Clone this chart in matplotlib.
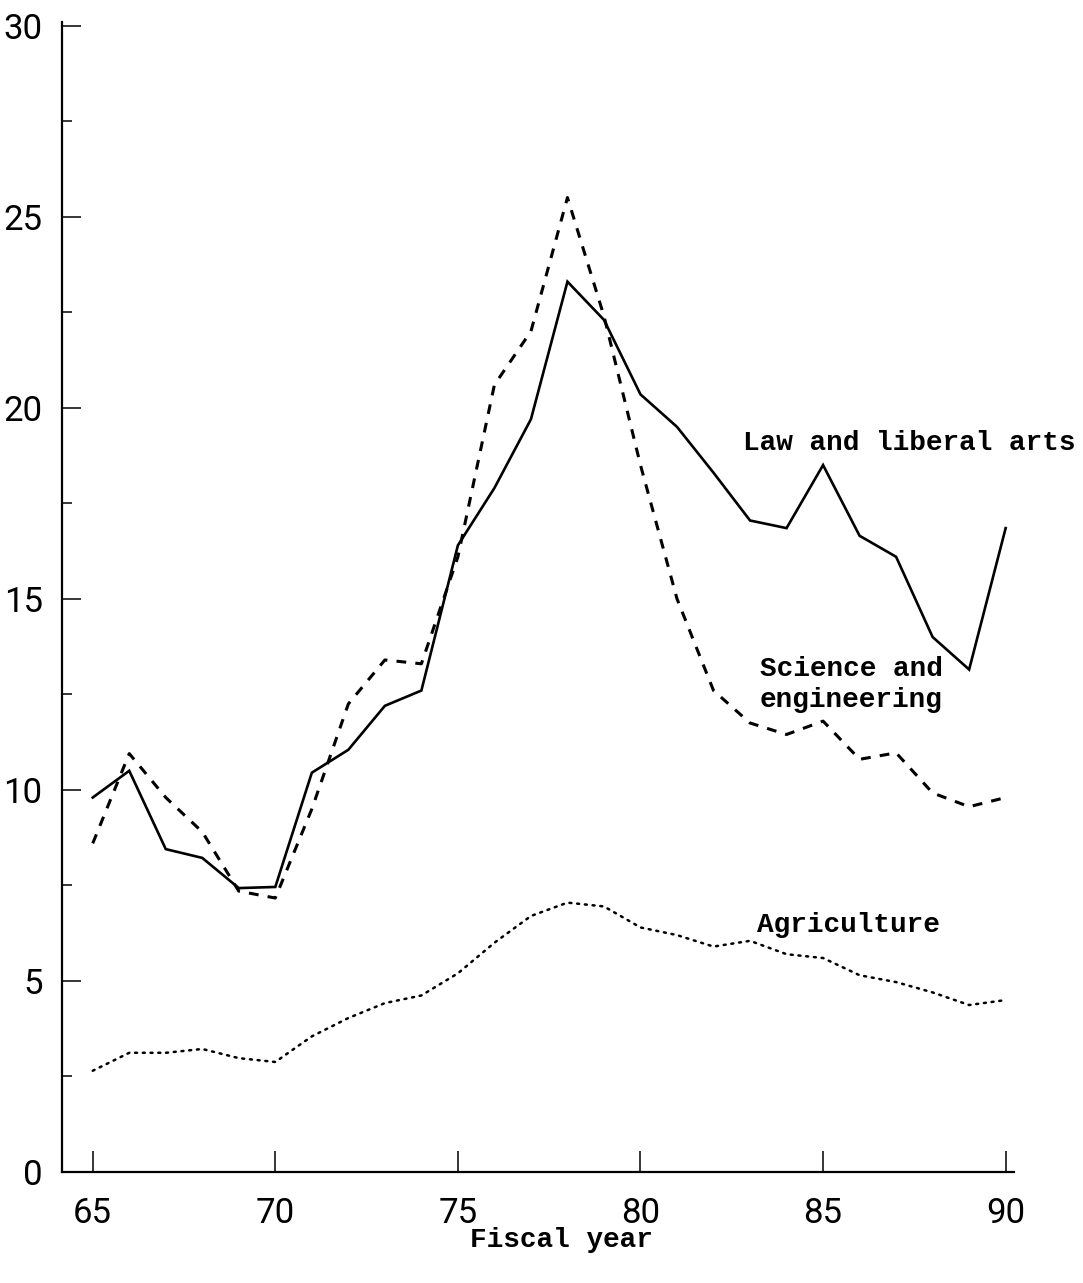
import numpy as np
import matplotlib
matplotlib.use("Agg")
import matplotlib.pyplot as plt
from matplotlib.ticker import MultipleLocator

# fiscal years 1965-1990
years = list(range(65, 91))

law = [9.8, 10.5, 8.45, 8.22, 7.43, 7.46, 10.45, 11.05, 12.2, 12.6,
       16.4, 17.9, 19.7, 23.3, 22.3, 20.35, 19.5, 18.3, 17.05, 16.85,
       18.5, 16.65, 16.1, 14.0, 13.15, 16.85]

science = [8.6, 10.95, 9.8, 8.9, 7.35, 7.17, 9.5, 12.25, 13.4, 13.3,
           16.1, 20.6, 22.0, 25.5, 22.4, 18.5, 15.0, 12.6, 11.75, 11.45,
           11.8, 10.8, 10.97, 9.92, 9.56, 9.8]

agriculture = [2.65, 3.12, 3.12, 3.22, 2.98, 2.88, 3.55, 4.03, 4.42, 4.62,
               5.2, 6.0, 6.7, 7.05, 6.95, 6.4, 6.2, 5.9, 6.05, 5.7,
               5.6, 5.15, 4.97, 4.7, 4.37, 4.5]

xticks = [65, 70, 75, 80, 85, 90]

tick_font = ["Roboto", "DejaVu Sans"]
mono = ["Liberation Mono", "DejaVu Sans Mono"]

fig = plt.figure(figsize=(10.83, 12.83), dpi=100)
ax = fig.add_axes([0.0573, 0.0865, 0.8787, 0.8965])

ax.plot(years, law, color="black", lw=1.9, solid_joinstyle="miter")
ax.plot(years, science, color="black", lw=2.2, linestyle=(0, (3.2, 3.0)))
ax.plot(years, agriculture, color="black", lw=1.8, linestyle=(0, (0.8, 2.3)),
        dash_capstyle="round")

ax.set_xlim(64.16, 90.22)
ax.set_ylim(0, 30.1)

for s in ["top", "right"]:
    ax.spines[s].set_visible(False)
for s in ["left", "bottom"]:
    ax.spines[s].set_linewidth(1.6)

ax.set_xticks(xticks)
ax.yaxis.set_major_locator(MultipleLocator(5))
ax.yaxis.set_minor_locator(MultipleLocator(2.5))
ax.tick_params(axis="y", which="major", direction="in", length=14, width=1.1, pad=14)
ax.tick_params(axis="y", which="minor", direction="in", length=7, width=1.1)
ax.tick_params(axis="x", which="major", direction="in", length=15, width=1.1, pad=18)

for lab in ax.get_xticklabels() + ax.get_yticklabels():
    lab.set_family(tick_font)
    lab.set_fontsize(25)
    lab.set_fontweight("normal")

ax.text(82.8, 19.08, "Law and liberal arts", family=mono, fontsize=20,
        fontweight="bold", va="center", ha="left")
ax.text(83.27, 12.75, "Science and\nengineering", family=mono, fontsize=20,
        fontweight="bold", va="center", ha="left", linespacing=1.25)
ax.text(83.19, 6.47, "Agriculture", family=mono, fontsize=20,
        fontweight="bold", va="center", ha="left")

fig.text(561 / 1083, 1 - 1240 / 1283, "Fiscal year", family=mono, fontsize=20,
         fontweight="bold", ha="center", va="center")

fig.savefig("out.png", dpi=100, facecolor="white")
